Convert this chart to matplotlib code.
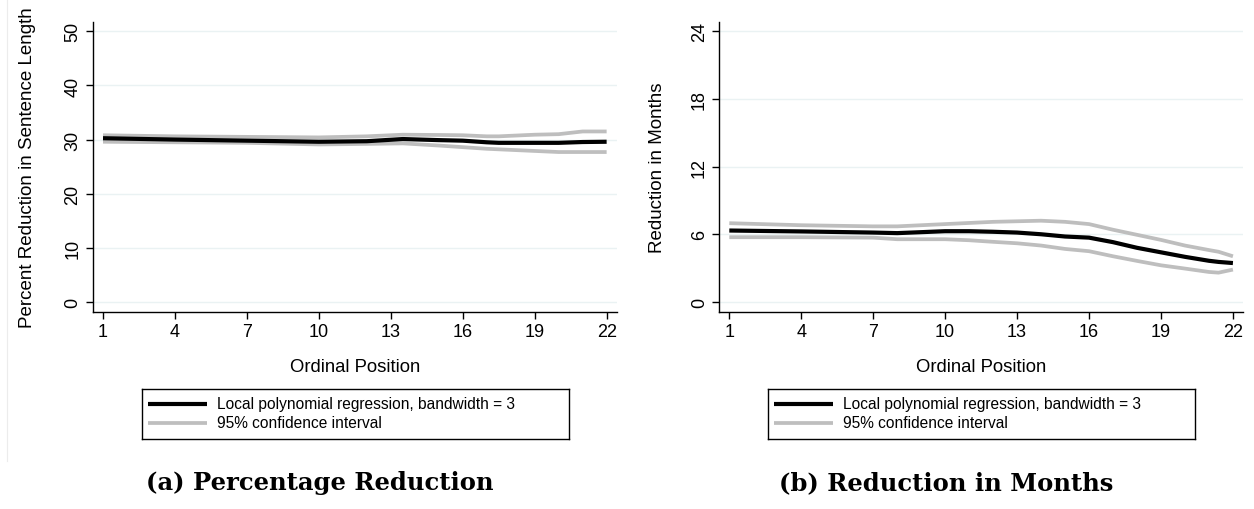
import matplotlib
matplotlib.use('Agg')
import matplotlib.pyplot as plt
from matplotlib.lines import Line2D

plt.rcParams['font.family'] = ['Liberation Sans', 'DejaVu Sans']

# ordinal positions
pos = [1, 4, 7, 10, 12, 13.5, 15, 16, 17, 17.5, 19, 20, 21, 22]

# (a) percent reduction in sentence length
pct_fit = [30.25, 30.0, 29.8, 29.6, 29.7, 30.1, 29.9, 29.8, 29.5, 29.4, 29.4, 29.4, 29.55, 29.6]
pct_hi = [30.8, 30.6, 30.5, 30.4, 30.6, 30.9, 30.85, 30.8, 30.6, 30.6, 30.9, 31.0, 31.5, 31.5]
pct_lo = [29.6, 29.5, 29.4, 29.1, 29.2, 29.3, 28.9, 28.6, 28.3, 28.2, 27.9, 27.7, 27.7, 27.7]

# (b) reduction in months
mon_pos = [1, 4, 7, 8, 10, 11, 12, 13, 14, 15, 16, 17, 18, 19, 20, 21, 21.4, 22]
mon_fit = [6.33, 6.25, 6.15, 6.1, 6.27, 6.27, 6.22, 6.15, 6.0, 5.8, 5.7, 5.3, 4.8, 4.4, 4.0, 3.65, 3.55, 3.45]
mon_hi = [6.98, 6.8, 6.7, 6.7, 6.9, 7.0, 7.1, 7.15, 7.2, 7.1, 6.9, 6.4, 5.95, 5.5, 5.0, 4.6, 4.45, 4.05]
mon_lo = [5.74, 5.74, 5.7, 5.56, 5.56, 5.47, 5.33, 5.2, 5.0, 4.7, 4.5, 4.05, 3.64, 3.25, 2.96, 2.66, 2.6, 2.87]

xticks = [1, 4, 7, 10, 13, 16, 19, 22]
pct_yticks = [0, 10, 20, 30, 40, 50]
mon_yticks = [0, 6, 12, 18, 24]

fit_label = "Local polynomial regression, bandwidth = 3"
ci_label = "95% confidence interval"

black = '#000000'
gray = '#bebebe'
gridc = '#eaf2f3'

fig = plt.figure(figsize=(12.54, 5.10), dpi=100)

W, H = 1254.0, 510.0


def panel(left, x, fit, hi, lo, yticks, ylim, ylabel, caption, ylab_x):
    ax = fig.add_axes([left / W, 1 - 313 / H, 524 / W, 290 / H])
    ax.plot(x, hi, color=gray, lw=2.7, solid_capstyle='butt', zorder=2)
    ax.plot(x, lo, color=gray, lw=2.7, solid_capstyle='butt', zorder=2)
    ax.plot(x, fit, color=black, lw=3.0, solid_capstyle='butt', zorder=3)
    ax.set_xlim(0.57, 22.42)
    ax.set_ylim(*ylim)
    ax.set_xticks(xticks)
    ax.set_yticks(yticks)
    ax.set_yticklabels([str(t) for t in yticks], rotation=90, va='center')
    for t in yticks:
        ax.axhline(t, color=gridc, lw=1.0, zorder=1)
    for s in ['top', 'right']:
        ax.spines[s].set_visible(False)
    for s in ['left', 'bottom']:
        ax.spines[s].set_linewidth(1.0)
    ax.tick_params(axis='both', direction='out', length=5, width=1.0,
                   labelsize=13, pad=3)
    fig.text((left + 262) / W, 1 - 368 / H, "Ordinal Position", fontsize=13.3,
             ha='center', va='center')
    fig.text(ylab_x / W, 1 - 168 / H, ylabel, rotation=90, fontsize=13.5,
             ha='center', va='center')

    # legend box
    lx0, lx1 = left + 49, left + 476
    lax = fig.add_axes([lx0 / W, 1 - 440 / H, (lx1 - lx0) / W, 50 / H])
    lax.set_xlim(0, lx1 - lx0)
    lax.set_ylim(50, 0)
    lax.set_xticks([])
    lax.set_yticks([])
    for s in lax.spines.values():
        s.set_linewidth(1.0)
    lax.plot([6, 65], [15, 15], color=black, lw=3.0, solid_capstyle='butt')
    lax.plot([6, 65], [34, 34], color=gray, lw=2.7, solid_capstyle='butt')
    lax.text(75, 15, fit_label, fontsize=11.2, va='center')
    lax.text(75, 34, ci_label, fontsize=11.2, va='center')

    fig.text((left + 227) / W, 1 - 483 / H, caption, fontsize=17.5,
             family=['DejaVu Serif'], weight='bold', ha='center', va='center')
    return ax


panel(92.7, pos, pct_fit, pct_hi, pct_lo, pct_yticks, (-1.85, 51.72),
      "Percent Reduction in Sentence Length", "(a) Percentage Reduction", 28)
panel(719, mon_pos, mon_fit, mon_hi, mon_lo, mon_yticks, (-0.886, 24.8),
      "Reduction in Months", "(b) Reduction in Months", 658)

# faint outer border line on the left
fig.add_artist(Line2D([7 / W, 7 / W], [1 - 462 / H, 1.0], color='#ececec', lw=0.8))

fig.savefig('out.png', dpi=100)
